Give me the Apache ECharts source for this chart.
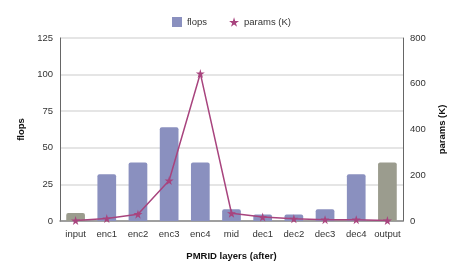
<!DOCTYPE html>
<html><head><meta charset="utf-8">
<script src="https://cdn.jsdelivr.net/npm/echarts@6/dist/echarts.min.js"></script>
<style>html,body{margin:0;padding:0;background:#fff}#c{width:463px;height:273px}</style>
</head><body><div id="c"></div>
<script>
const categories = ['input','enc1','enc2','enc3','enc4','mid','dec1','dec2','dec3','dec4','output'];
const flops = [5.5, 32, 40, 64, 40, 8, 4.5, 4.5, 8, 32, 40];
const paramsK = [2, 11, 30, 177, 645, 34, 17, 10, 6, 6, 2];
const grayCats = ['input','output'];
const star = 'path://M50,0 L61,35 L98,35 L68,57 L79,91 L50,70 L21,91 L32,57 L2,35 L39,35 Z';

const chart = echarts.init(document.getElementById('c'));
chart.setOption({
  animation: false,
  textStyle: {fontFamily: 'Liberation Sans, Arial, sans-serif'},
  legend: {
    top: 12, left: 'center', itemWidth: 10, itemHeight: 10, itemGap: 22,
    textStyle: {fontSize: 9.5, color: '#333'},
    data: [{name: 'flops', icon: 'rect'}, {name: 'params (K)', icon: star}]
  },
  grid: {left: 60, right: 60, top: 38, bottom: 52},
  xAxis: {
    type: 'category', data: categories,
    name: 'PMRID layers (after)', nameLocation: 'middle', nameGap: 30,
    nameTextStyle: {fontWeight: 'bold', fontSize: 9.5, color: '#111'},
    axisLine: {lineStyle: {color: '#888', width: 1.5}},
    axisTick: {show: false},
    axisLabel: {interval: 0, fontSize: 9.5, color: '#333', margin: 8}
  },
  yAxis: [{
    type: 'value', min: 0, max: 125, interval: 25,
    name: 'flops', nameLocation: 'middle', nameGap: 34,
    nameTextStyle: {fontWeight: 'bold', fontSize: 9.5, color: '#111'},
    axisLine: {show: true, lineStyle: {color: '#666'}},
    axisTick: {show: false},
    axisLabel: {fontSize: 9.5, color: '#333', margin: 7},
    splitLine: {lineStyle: {color: '#ddd', width: 1.5}}
  }, {
    type: 'value', min: 0, max: 800, interval: 200,
    name: 'params (K)', nameLocation: 'middle', nameGap: 34,
    nameTextStyle: {fontWeight: 'bold', fontSize: 9.5, color: '#111'},
    axisLine: {show: true, lineStyle: {color: '#666'}},
    axisTick: {show: false},
    axisLabel: {fontSize: 9.5, color: '#333', margin: 7},
    splitLine: {show: false}
  }],
  series: [{
    name: 'flops', type: 'bar', barWidth: '60%',
    itemStyle: {color: '#8a90bf', borderRadius: [2,2,0,0]},
    data: flops.map((v, i) => grayCats.includes(categories[i])
      ? {value: v, itemStyle: {color: '#9b9c8e'}} : v)
  }, {
    name: 'params (K)', type: 'line', yAxisIndex: 1,
    symbol: star, symbolSize: 9,
    lineStyle: {color: '#a8447e', width: 1.5},
    itemStyle: {color: '#a8447e'},
    data: paramsK
  }]
});
</script></body></html>
